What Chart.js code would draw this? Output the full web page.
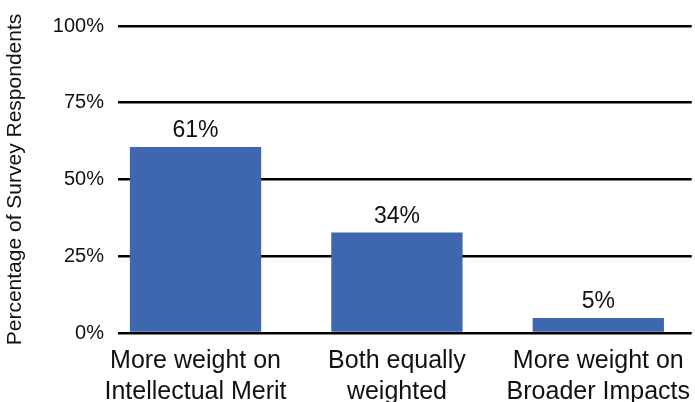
<!DOCTYPE html>
<html>
<head>
<meta charset="utf-8">
<script src="https://cdn.jsdelivr.net/npm/chart.js@4"></script>
<style>
  html, body { margin: 0; padding: 0; background: #fff; }
  #wrap { width: 695px; height: 402px; }
</style>
</head>
<body>
<div id="wrap"><canvas id="weightChart"></canvas></div>
<script>
// Chart data
const categories = [
    ['More weight on', 'Intellectual Merit'],
    ['Both equally', 'weighted'],
    ['More weight on', 'Broader Impacts']
];
const positions = [0, 1, 2];
const shares = [60.6, 32.7, 4.9];
const shareLabels = ['61%', '34%', '5%'];
const yTicks = [0, 25, 50, 75, 100];

const fontFamily = '"Liberation Sans", Arial, sans-serif';

// Value labels above bars
const barLabels = {
    id: 'barLabels',
    afterDatasetsDraw(chart) {
        const ctx = chart.ctx;
        const meta = chart.getDatasetMeta(0);
        ctx.save();
        ctx.font = '23px ' + fontFamily;
        ctx.fillStyle = '#111';
        ctx.textAlign = 'center';
        ctx.textBaseline = 'alphabetic';
        meta.data.forEach((bar, i) => {
            ctx.fillText(shareLabels[i], bar.x, bar.y - 10);
        });
        ctx.restore();
    }
};

document.addEventListener('DOMContentLoaded', function() {
    var ctx = document.getElementById('weightChart').getContext('2d');
    new Chart(ctx, {
        type: 'bar',
        data: {
            datasets: [{
                data: positions.map((p, i) => ({ x: p, y: shares[i] })),
                backgroundColor: '#3e67b0',
                borderWidth: 0,
                barPercentage: 0.652,
                categoryPercentage: 1
            }]
        },
        options: {
            responsive: true,
            maintainAspectRatio: false,
            animation: false,
            layout: { padding: { top: 22, right: 0, left: 0, bottom: 0 } },
            plugins: {
                legend: { display: false },
                tooltip: { enabled: false }
            },
            scales: {
                x: {
                    type: 'linear',
                    offset: false,
                    min: -0.385,
                    max: 2.464,
                    grid: { display: false },
                    border: { display: false },
                    afterBuildTicks: function(scale) {
                        scale.ticks = positions.map(v => ({ value: v }));
                    },
                    afterFit: function(scale) { scale.height = 69; },
                    ticks: {
                        autoSkip: false,
                        maxRotation: 0,
                        padding: 5,
                        color: '#111',
                        font: { family: fontFamily, size: 25, lineHeight: 1.24 },
                        callback: function(value) { return categories[value]; }
                    }
                },
                y: {
                    min: 0,
                    max: 100,
                    afterBuildTicks: function(scale) {
                        scale.ticks = yTicks.map(v => ({ value: v }));
                    },
                    afterFit: function(scale) { scale.width = 118; },
                    grid: { color: '#000', lineWidth: 2.6, drawTicks: false },
                    border: { display: false },
                    ticks: {
                        padding: 14,
                        color: '#111',
                        font: { family: fontFamily, size: 20 },
                        callback: function(value) { return value + '%'; }
                    },
                    title: {
                        display: true,
                        text: 'Percentage of Survey Respondents',
                        color: '#111',
                        font: { family: fontFamily, size: 21 },
                        padding: { top: 3, bottom: 0 }
                    }
                }
            }
        },
        plugins: [barLabels]
    });
});
</script>
</body>
</html>
